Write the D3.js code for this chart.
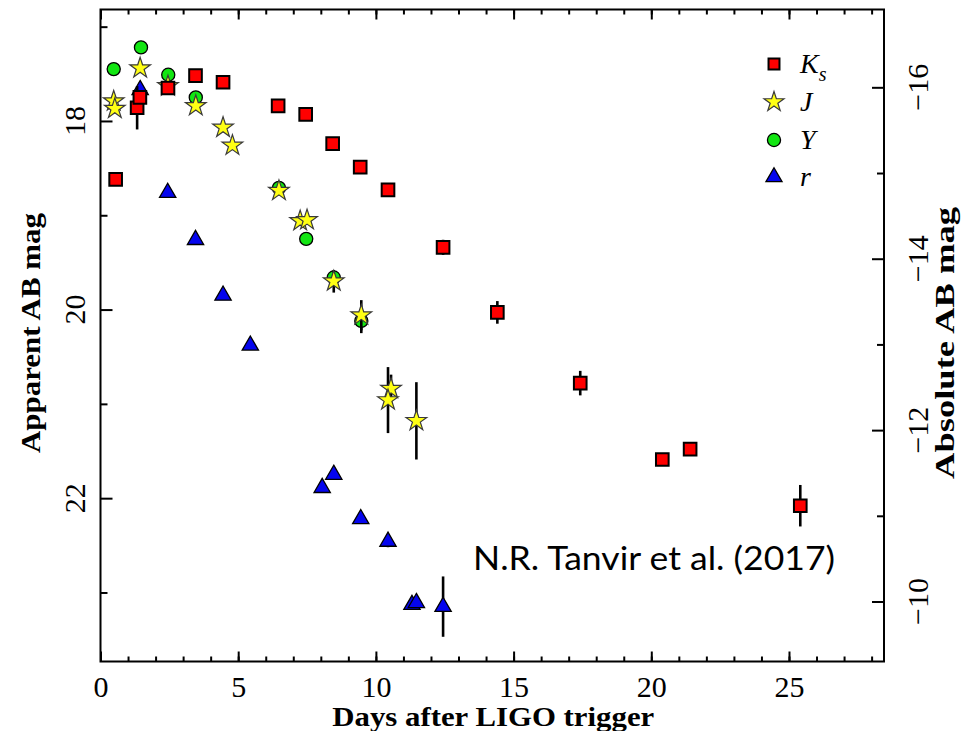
<!DOCTYPE html>
<html>
<head>
<meta charset="utf-8">
<script src="https://cdn.jsdelivr.net/npm/d3@7"></script>
<style>
  html, body { margin: 0; padding: 0; background: #ffffff; }
  svg { display: block; }
</style>
</head>
<body>
<div id="chart"></div>
<script>
// ---------------- data ----------------
const ksDays = [0.55, 1.33, 1.43, 2.45, 3.45, 4.45, 6.45, 7.45, 8.43, 9.43, 10.44, 12.44, 14.41, 17.42, 20.40, 21.41, 25.41];
const ksMags = [18.62, 17.86, 17.75, 17.65, 17.52, 17.59, 17.84, 17.93, 18.24, 18.49, 18.73, 19.34, 20.03, 20.78, 21.59, 21.48, 22.08];
const ksErrs = [0.03, 0.23, 0.05, 0.03, 0.03, 0.03, 0.03, 0.03, 0.03, 0.03, 0.03, 0.08, 0.12, 0.13, 0.04, 0.07, 0.22];

const jDays = [0.48, 0.52, 1.44, 2.45, 3.46, 4.45, 4.79, 6.48, 7.25, 7.50, 8.47, 9.47, 10.55, 10.44, 11.47];
const jMags = [17.79, 17.87, 17.44, 17.63, 17.84, 18.07, 18.26, 18.74, 19.06, 19.05, 19.70, 20.06, 20.84, 20.96, 21.18];
const jErrs = [0.05, 0.05, 0.03, 0.03, 0.03, 0.05, 0.03, 0.05, 0.05, 0.05, 0.12, 0.16, 0.15, 0.35, 0.41];

const yDays = [0.48, 1.47, 2.46, 3.46, 6.48, 7.47, 8.47, 9.47];
const yMags = [17.45, 17.22, 17.51, 17.75, 18.71, 19.25, 19.66, 20.12];
const yErrs = [0.02, 0.02, 0.02, 0.03, 0.03, 0.03, 0.05, 0.13];

const rDays = [1.44, 2.44, 3.45, 4.45, 5.44, 8.05, 8.47, 9.45, 10.44, 11.31, 11.47, 12.44];
const rMags = [17.67, 18.76, 19.26, 19.85, 20.38, 21.89, 21.75, 22.22, 22.46, 23.13, 23.11, 23.15];
const rErrs = [0.02, 0.02, 0.02, 0.03, 0.03, 0.03, 0.03, 0.04, 0.06, 0.04, 0.04, 0.32];

const xMajorTicks = [0, 5, 10, 15, 20, 25];
const xMinorTicks = d3.range(0, 29, 1);
const yLeftMajor = [18, 20, 22];
const yLeftMinor = [17, 19, 21, 23];
const yRightMajor = [-16, -14, -12, -10];
const yRightMinor = [-15, -13, -11];

const legendNames = ["K", "J", "Y", "r"];
const legendSubs = ["s", "", "", ""];

const xLabel = "Days after LIGO trigger";
const yLeftLabel = "Apparent AB mag";
const yRightLabel = "Absolute AB mag";
const creditText = "N.R. Tanvir et al. (2017)";

// ---------------- layout ----------------
const W = 963, H = 731;
const X0 = 100.5, X1 = 884, Y0 = 9.5, Y1 = 661.5;

const svg = d3.select("#chart").append("svg")
  .attr("width", W).attr("height", H)
  .attr("viewBox", `0 0 ${W} ${H}`);

svg.append("rect").attr("width", W).attr("height", H).attr("fill", "#fff");

const x = d3.scaleLinear().domain([0, 28.45]).range([X0, X1]);
const yL = d3.scaleLinear().domain([16.818, 23.732]).range([Y0, Y1]);
const yR = d3.scaleLinear().domain([-16.908, -9.30]).range([Y0, Y1]);

const tickFont = "'Liberation Serif', 'DejaVu Serif', serif";
const tickSize = 30;

// axes (inward ticks)
function styleAxis(g) {
  g.select(".domain").remove();
  g.selectAll(".tick line").attr("stroke", "#000").attr("stroke-width", 2);
}

svg.append("g").attr("transform", `translate(0,${Y1})`)
  .call(d3.axisBottom(x).tickValues(xMinorTicks).tickSize(-5).tickFormat(""))
  .call(styleAxis);
const bottomMajor = svg.append("g").attr("transform", `translate(0,${Y1})`)
  .call(d3.axisBottom(x).tickValues(xMajorTicks).tickSize(-10).tickPadding(14).tickFormat(d3.format("d")))
  .call(styleAxis);
bottomMajor.selectAll(".tick text")
  .attr("font-family", tickFont).attr("font-size", tickSize).attr("fill", "#000");

svg.append("g").attr("transform", `translate(0,${Y0})`)
  .call(d3.axisTop(x).tickValues(xMinorTicks).tickSize(-5).tickFormat(""))
  .call(styleAxis);
svg.append("g").attr("transform", `translate(0,${Y0})`)
  .call(d3.axisTop(x).tickValues(xMajorTicks).tickSize(-10).tickFormat(""))
  .call(styleAxis);

svg.append("g").attr("transform", `translate(${X0},0)`)
  .call(d3.axisLeft(yL).tickValues(yLeftMinor).tickSize(-7).tickFormat(""))
  .call(styleAxis);
svg.append("g").attr("transform", `translate(${X0},0)`)
  .call(d3.axisLeft(yL).tickValues(yLeftMajor).tickSize(-12).tickFormat(""))
  .call(styleAxis);

svg.append("g").attr("transform", `translate(${X1},0)`)
  .call(d3.axisRight(yR).tickValues(yRightMinor).tickSize(-7).tickFormat(""))
  .call(styleAxis);
svg.append("g").attr("transform", `translate(${X1},0)`)
  .call(d3.axisRight(yR).tickValues(yRightMajor).tickSize(-12).tickFormat(""))
  .call(styleAxis);

// rotated tick labels
svg.append("g").selectAll("text").data(yLeftMajor).join("text")
  .attr("transform", d => `translate(85,${yL(d)}) rotate(-90)`)
  .attr("text-anchor", "middle")
  .attr("font-family", tickFont).attr("font-size", tickSize)
  .text(d => d);

svg.append("g").selectAll("text").data(yRightMajor).join("text")
  .attr("transform", d => `translate(928,${yR(d)}) rotate(-90)`)
  .attr("text-anchor", "middle")
  .attr("font-family", tickFont).attr("font-size", tickSize)
  .text(d => "\u2212" + Math.abs(d));

// frame
svg.append("rect")
  .attr("x", X0).attr("y", Y0).attr("width", X1 - X0).attr("height", Y1 - Y0)
  .attr("fill", "none").attr("stroke", "#000").attr("stroke-width", 2);

// axis titles
svg.append("text")
  .attr("x", (X0 + X1) / 2 + 1).attr("y", 726)
  .attr("text-anchor", "middle")
  .attr("font-family", tickFont).attr("font-weight", "bold").attr("font-size", 27)
  .attr("textLength", 322).attr("lengthAdjust", "spacingAndGlyphs")
  .text(xLabel);

svg.append("text")
  .attr("transform", `translate(40,333) rotate(-90)`)
  .attr("text-anchor", "middle")
  .attr("font-family", tickFont).attr("font-weight", "bold").attr("font-size", 27)
  .attr("textLength", 240).attr("lengthAdjust", "spacingAndGlyphs")
  .text(yLeftLabel);

svg.append("text")
  .attr("transform", `translate(954,343) rotate(-90)`)
  .attr("text-anchor", "middle")
  .attr("font-family", tickFont).attr("font-weight", "bold").attr("font-size", 27)
  .attr("textLength", 272).attr("lengthAdjust", "spacingAndGlyphs")
  .text(yRightLabel);

// ---------------- series ----------------
const styles = {
  K: { symbol: d3.symbolSquare, size: 160, fill: "#ff0000", stroke: "#000", sw: 2 },
  J: { symbol: d3.symbolStar, size: 132, fill: "#ffff14", stroke: "#3a3a3a", sw: 1.2 },
  Y: { symbol: d3.symbolCircle, size: 135, fill: "#12e612", stroke: "#000", sw: 1.3 },
  r: { symbol: d3.symbolTriangle, size: 115, fill: "#0505ee", stroke: "#000", sw: 1.3 }
};

function series(days, mags, errs) {
  return days.map((d, i) => ({ day: d, mag: mags[i], err: errs[i] }));
}

const drawOrder = [
  { key: "r", data: series(rDays, rMags, rErrs) },
  { key: "Y", data: series(yDays, yMags, yErrs) },
  { key: "J", data: series(jDays, jMags, jErrs) },
  { key: "K", data: series(ksDays, ksMags, ksErrs) }
];

const plot = svg.append("g");
drawOrder.forEach(s => {
  const st = styles[s.key];
  const g = plot.append("g");
  g.selectAll("line").data(s.data).join("line")
    .attr("x1", d => x(d.day)).attr("x2", d => x(d.day))
    .attr("y1", d => yL(d.mag - d.err)).attr("y2", d => yL(d.mag + d.err))
    .attr("stroke", "#000").attr("stroke-width", 2.6);
  g.selectAll("path").data(s.data).join("path")
    .attr("transform", d => `translate(${x(d.day)},${yL(d.mag)})`)
    .attr("d", d3.symbol().type(st.symbol).size(st.size))
    .attr("fill", st.fill).attr("stroke", st.stroke).attr("stroke-width", st.sw)
    .attr("stroke-linejoin", "miter");
});

// ---------------- legend ----------------
const legendY = [64, 102, 140, 177];
const legendSizes = { K: 120, J: 124, Y: 135, r: 112 };
const leg = svg.append("g");
legendNames.forEach((name, i) => {
  const st = styles[name];
  leg.append("path")
    .attr("transform", `translate(774,${legendY[i]})`)
    .attr("d", d3.symbol().type(st.symbol).size(legendSizes[name]))
    .attr("fill", st.fill).attr("stroke", st.stroke).attr("stroke-width", st.sw);
  const t = leg.append("text")
    .attr("x", 800).attr("y", legendY[i] + 9)
    .attr("font-family", tickFont).attr("font-style", "italic").attr("font-size", 28)
    .text(name);
  if (legendSubs[i]) {
    t.append("tspan").attr("dy", 8).attr("font-size", 20).text(legendSubs[i]);
  }
});

// credit annotation
svg.append("text")
  .attr("x", 473).attr("y", 570)
  .attr("font-family", "Lato, 'Open Sans', sans-serif").attr("font-size", 33)
  .attr("textLength", 362).attr("lengthAdjust", "spacingAndGlyphs")
  .text(creditText);
</script>
</body>
</html>
